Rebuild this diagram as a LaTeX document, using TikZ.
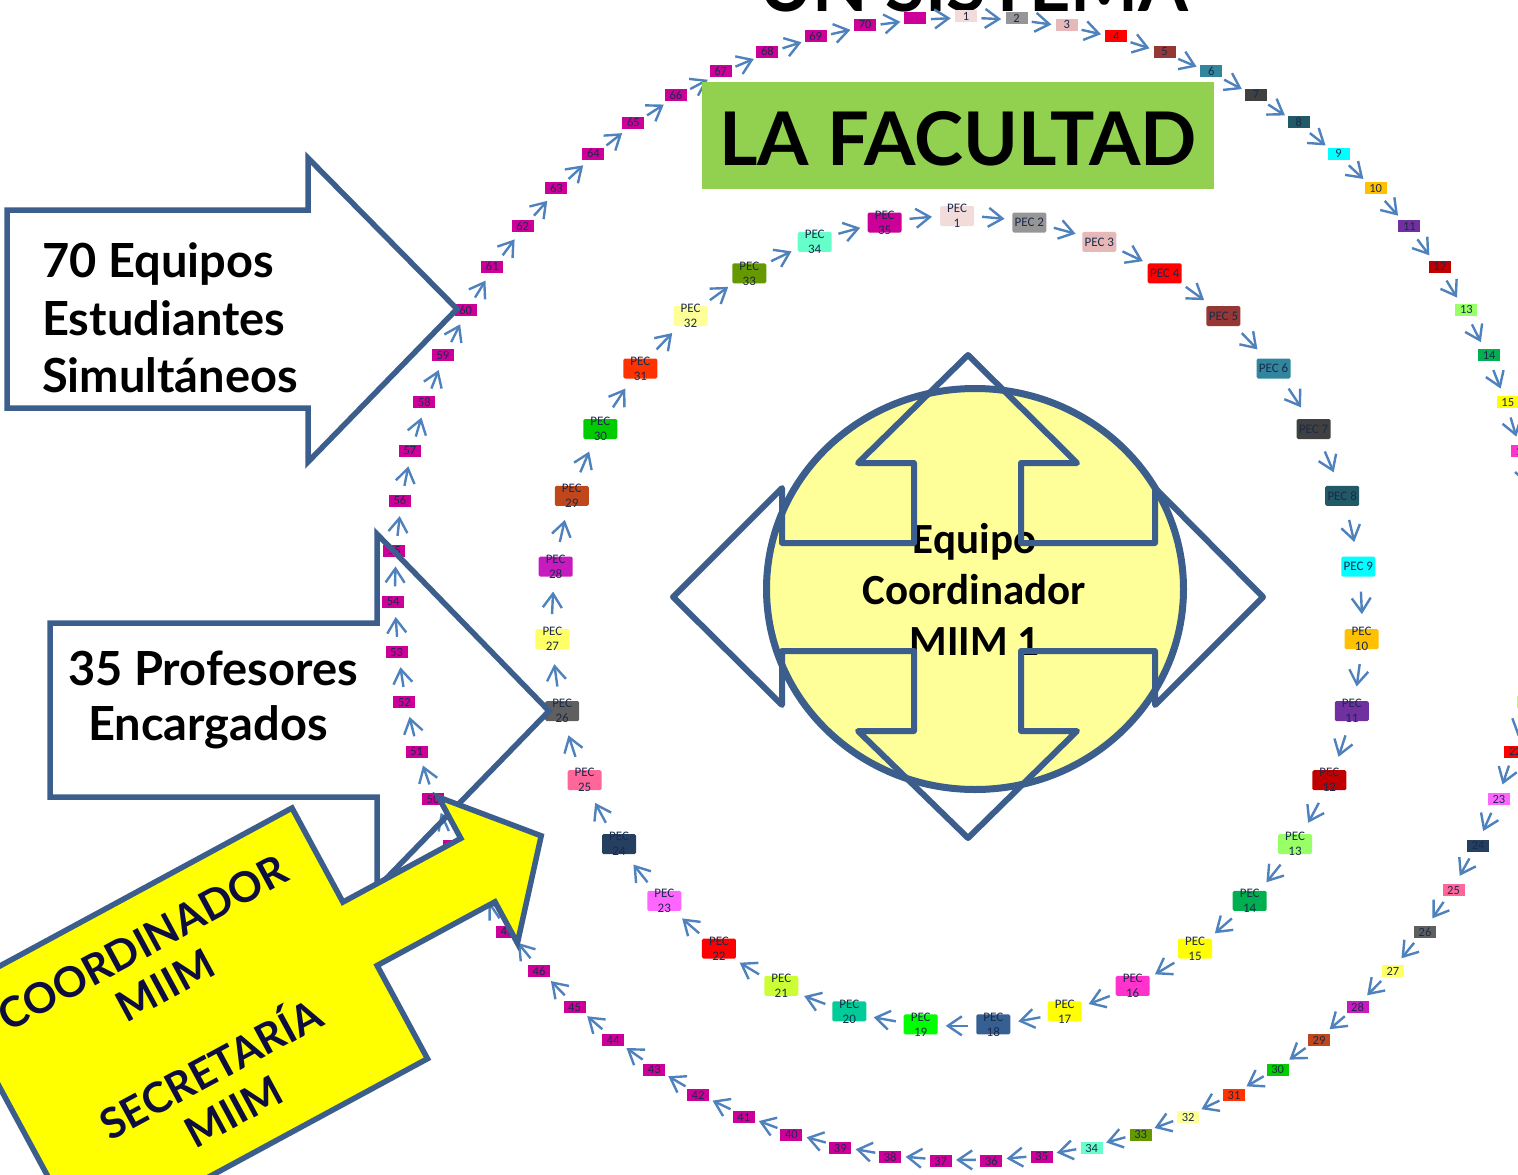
\documentclass[tikz,border=0pt]{standalone}
\usepackage{fontspec}
\setmainfont{Carlito}
\newfontfamily\gill{Lato}
\usetikzlibrary{arrows.meta,shapes.geometric}
\definecolor{pc1}{HTML}{F2DCDB}
\definecolor{pc2}{HTML}{969696}
\definecolor{pc3}{HTML}{E6B9B8}
\definecolor{pc4}{HTML}{FF0000}
\definecolor{pc5}{HTML}{953735}
\definecolor{pc6}{HTML}{31859C}
\definecolor{pc7}{HTML}{404040}
\definecolor{pc8}{HTML}{215967}
\definecolor{pc9}{HTML}{00FFFF}
\definecolor{pc10}{HTML}{FFC000}
\definecolor{pc11}{HTML}{7030A0}
\definecolor{pc12}{HTML}{C00000}
\definecolor{pc13}{HTML}{99FF66}
\definecolor{pc14}{HTML}{00B050}
\definecolor{pc15}{HTML}{FFFF00}
\definecolor{pc16}{HTML}{FF33CC}
\definecolor{pc17}{HTML}{FFFF00}
\definecolor{pc18}{HTML}{366092}
\definecolor{pc19}{HTML}{00FF00}
\definecolor{pc20}{HTML}{00CC99}
\definecolor{pc21}{HTML}{CCFF33}
\definecolor{pc22}{HTML}{FF0000}
\definecolor{pc23}{HTML}{FF66FF}
\definecolor{pc24}{HTML}{243F60}
\definecolor{pc25}{HTML}{FF6699}
\definecolor{pc26}{HTML}{5F5F5F}
\definecolor{pc27}{HTML}{FFFF66}
\definecolor{pc28}{HTML}{C71BBF}
\definecolor{pc29}{HTML}{C0461C}
\definecolor{pc30}{HTML}{00CC00}
\definecolor{pc31}{HTML}{FF3300}
\definecolor{pc32}{HTML}{FFFF99}
\definecolor{pc33}{HTML}{669900}
\definecolor{pc34}{HTML}{66FFCC}
\definecolor{pc35}{HTML}{CC0099}
\definecolor{pc36}{HTML}{CC0099}
\definecolor{bord}{HTML}{3B5E8C}
\definecolor{arr}{HTML}{4F81BD}
\definecolor{txt}{HTML}{1B2A4A}
\definecolor{facu}{HTML}{92D050}
\definecolor{cyel}{HTML}{FFFF99}
\definecolor{yel}{HTML}{FFFF00}
\definecolor{navy}{HTML}{0D0D3F}
\tikzset{
 obox/.style={rectangle, inner sep=0pt, minimum width=22pt, minimum height=12pt, text=txt, font=\fontsize{12.5}{12.5}\selectfont},
 pbox/.style={rectangle, rounded corners=1.5pt, inner sep=0pt, minimum width=34pt, minimum height=20pt},
 ptext/.style={inner sep=0pt, text=txt, align=center, font=\fontsize{13}{15}\selectfont},
 ringarrow/.style={draw=arr, line width=2.4pt, -{Straight Barb[length=14pt,width=19pt]}},
 blockarrow/.style={draw=bord, line width=5.5pt, line join=miter},
 bigtext/.style={inner sep=0pt, anchor=base west, font=\gill\bfseries\fontsize{47}{56}\selectfont},
}
\begin{document}
\begin{tikzpicture}[x=1pt,y=-1pt]
\useasboundingbox (0,0) rectangle (1518,1175);
% title (cut off at top)
\node[inner sep=0pt, anchor=base, font=\gill\bfseries\fontsize{72}{72}\selectfont] (titulo) at (974,12) {UN SISTEMA};
% outer ring
\foreach \k in {1,...,71}{
  \pgfmathsetmacro\a{90-5.070423*(\k-1)}
  \pgfmathtruncatemacro\ci{min(\k,36)}
  \ifnum\k<71 \def\lab{\k}\else\def\lab{}\fi
  \node[obox, fill=pc\ci] (o\k) at ({966+573*cos(\a)},{589-573*sin(\a)}) {\lab};
}
\foreach \k in {1,...,71}{
  \pgfmathsetmacro\m{90-5.070423*(\k-0.5)}
  \coordinate (os\k) at ({966+571*cos(\m+1)},{589-571*sin(\m+1)});
  \coordinate (oe\k) at ({966+571*cos(\m-1)},{589-571*sin(\m-1)});
  \draw[ringarrow] (os\k) -- (oe\k);
}
% la facultad
\node[fill=facu, minimum width=512pt, minimum height=107pt, inner sep=0pt] (facbox) at (958,135.5) {};
\node[inner sep=0pt, anchor=base, font=\gill\bfseries\fontsize{74}{74}\selectfont] (factxt) at (958,165) {LA FACULTAD};
% inner ring
\foreach \k in {1,...,35}{
  \pgfmathsetmacro\a{90-10.285714*(\k-1)}
  \node[pbox, fill=pc\k] (p\k) at ({957+405*cos(\a)},{621-405*sin(\a)}) {};
  \ifnum\k=1 \def\lab{PEC\\1}\else\ifnum\k<10 \def\lab{PEC \k}\else\def\lab{PEC\\\k}\fi\fi
  \node[ptext] (pt\k) at (p\k.center) {\lab};
}
\foreach \k in {1,...,35}{
  \pgfmathsetmacro\m{90-10.285714*(\k-0.5)}
  \coordinate (ps\k) at ({957+405*cos(\m+1.6)},{621-405*sin(\m+1.6)});
  \coordinate (pe\k) at ({957+405*cos(\m-1.6)},{621-405*sin(\m-1.6)});
  \draw[ringarrow] (ps\k) -- (pe\k);
}
% centre
\node[ellipse, draw=bord, fill=cyel, line width=7pt, minimum width=417pt, minimum height=401pt, inner sep=0pt] (core) at (975,589) {};
\node[inner sep=0pt, align=center, font=\bfseries\fontsize{43}{50.6}\selectfont] (coretxt) at (974.5,589.5) {Equipo\\Coordinador\\MIIM 1};
\draw[draw=bord, line width=6pt, line join=round] (968,355) -- (1077,463) -- (1021,463) -- (1021,543) -- (1155,543) -- (1155,488) -- (1263,597) -- (1155,705) -- (1155,651) -- (1021,651) -- (1021,731) -- (1077,731) -- (968,838) -- (858,731) -- (914,731) -- (914,651) -- (782,651) -- (782,705) -- (673,597) -- (782,488) -- (782,543) -- (914,543) -- (914,463) -- (858,463) -- cycle;
% left block arrows
\draw[blockarrow] (7,210) -- (308,210) -- (308,158) -- (457,309) -- (308,462) -- (308,408) -- (7,408) -- cycle;
\node[bigtext] (t1) at (42,277) {70 Equipos};
\node[bigtext] (t2) at (42,335) {Estudiantes};
\node[bigtext] (t3) at (42,392) {Simultáneos};
\draw[blockarrow] (50,623) -- (377,623) -- (377,534) -- (549,711) -- (377,888) -- (377,797) -- (50,797) -- cycle;
\node[bigtext, anchor=base] (t4) at (213,685) {35 Profesores};
\node[bigtext, anchor=base] (t5) at (208,740) {Encargados};
% yellow arrow
\filldraw[fill=yel, draw=bord, line width=5.5pt, line join=miter] (-51,993.5) -- (292,808) -- (342.9,902.1) -- (460.8,838.4) -- (438.4,797.1) -- (541.2,835.8) -- (517.4,943.1) -- (495,901.8) -- (377.1,965.5) -- (427.5,1058.7) -- (84.5,1244.2) -- cycle;
\node[inner sep=0pt, align=center, rotate=28.4, text=navy, font=\gill\bfseries\fontsize{42}{48}\selectfont] (coord) at (188,1027) {COORDINADOR\\MIIM\\[48pt]SECRETARÍA\\MIIM};
\end{tikzpicture}
\end{document}
